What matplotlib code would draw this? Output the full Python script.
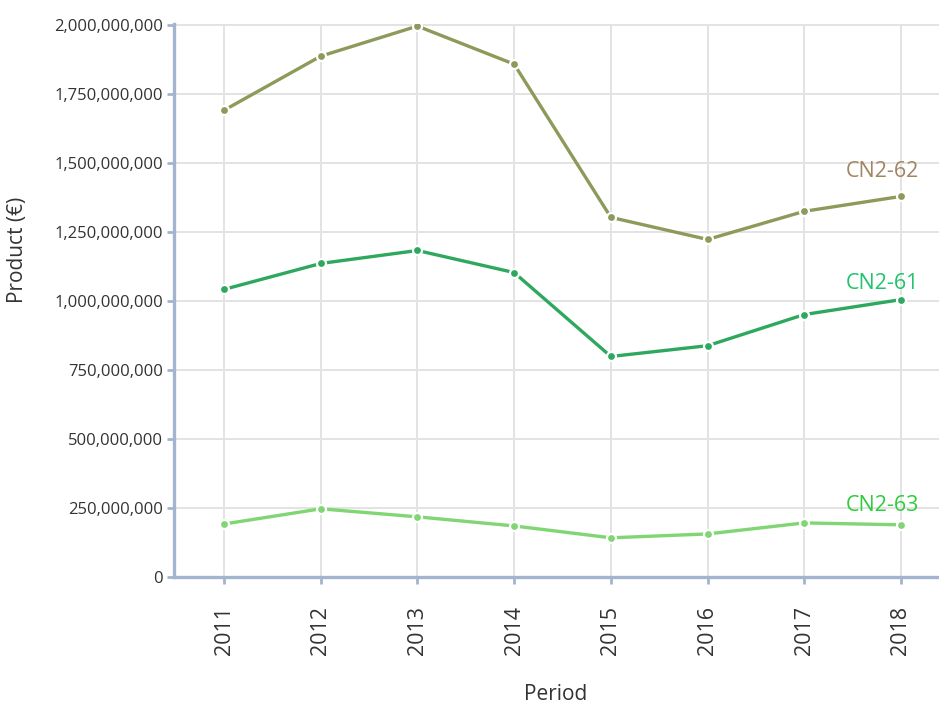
import matplotlib
matplotlib.use("Agg")
import matplotlib.pyplot as plt
from matplotlib.ticker import FuncFormatter

years = [2011, 2012, 2013, 2014, 2015, 2016, 2017, 2018]
cn2_62 = [1.691e9, 1.887e9, 1.996e9, 1.858e9, 1.303e9, 1.223e9, 1.325e9, 1.379e9]
cn2_61 = [1.042e9, 1.136e9, 1.183e9, 1.103e9, 0.799e9, 0.838e9, 0.951e9, 1.005e9]
cn2_63 = [0.192e9, 0.247e9, 0.218e9, 0.185e9, 0.142e9, 0.156e9, 0.196e9, 0.189e9]

series = [
    ("CN2-62", cn2_62, "#8c9a5a", "#a08562", 25),
    ("CN2-61", cn2_61, "#2ea85f", "#1fc46c", 16),
    ("CN2-63", cn2_63, "#7fd673", "#2ecc3e", 19),
]

plt.rcParams['font.family'] = ['Open Sans', 'DejaVu Sans']
axis_col = "#a3b4cf"

fig = plt.figure(figsize=(9.39, 7.06), dpi=100)
ax = fig.add_axes([174 / 939, 1 - 577 / 706, (939 - 174) / 939, (577 - 24) / 706])

for name, vals, col, lcol, dy in series:
    ax.plot(years, vals, color=col, lw=2.4, marker='o', ms=6.5,
            mfc=col, mec='white', mew=1.6, zorder=3)
    ax.annotate(name, (years[-1], vals[-1]), xytext=(13, dy * 0.72),
                textcoords='offset points', ha='right', va='center',
                color=lcol, fontsize=15.5)

ax.set_xlim(2011 - 50 / 96.71, 2018 + 38 / 96.71)
ax.set_ylim(0, 2e9 * (553 / 552))
ax.set_xticks(years)
ax.set_yticks([i * 2.5e8 for i in range(9)])
ax.yaxis.set_major_formatter(FuncFormatter(lambda v, p: '{:,.0f}'.format(v)))
ax.set_xticklabels([str(y) for y in years], rotation=90)

ax.grid(True, color='#e3e3e3', lw=1.4, zorder=0)
ax.set_axisbelow(True)
for s in ['top', 'right']:
    ax.spines[s].set_visible(False)
for s in ['left', 'bottom']:
    ax.spines[s].set_color(axis_col)
    ax.spines[s].set_linewidth(2.4)
ax.tick_params(axis='both', colors=axis_col, length=5, width=2)
ax.tick_params(axis='y', labelcolor='#333333', labelsize=12, pad=3)
ax.tick_params(axis='x', labelcolor='#333333', labelsize=15.5, pad=16)

# axis titles placed by pixel position
fig.text(556 / 939, 1 - 695 / 706, 'Period', fontsize=15, color='#333333',
         ha='center', va='center')
fig.text(18 / 939, 1 - 250 / 706, 'Product (€)', fontsize=15, color='#333333',
         ha='center', va='center', rotation=90)

fig.savefig('out.png', dpi=100)
